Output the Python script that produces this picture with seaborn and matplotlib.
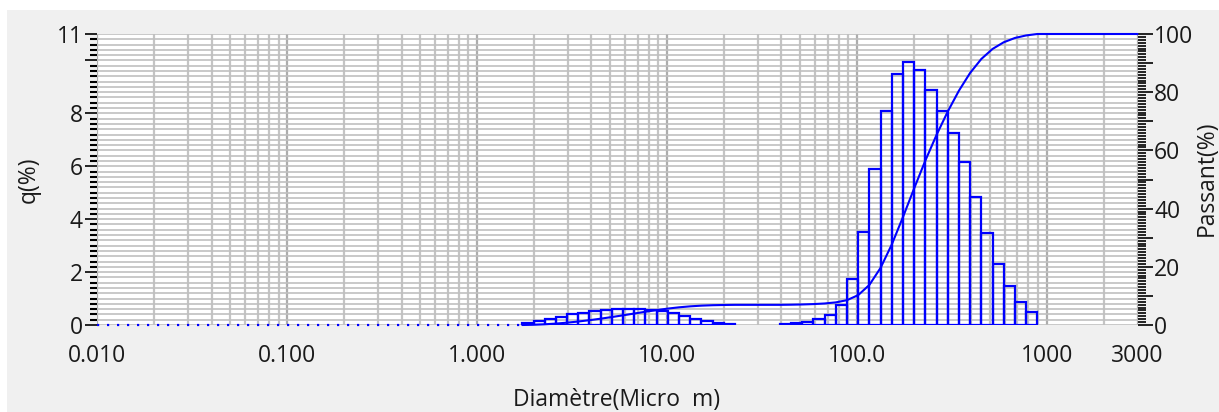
import numpy as np
import matplotlib
matplotlib.use("Agg")
import matplotlib.pyplot as plt
import seaborn as sns
from matplotlib.ticker import FixedLocator, FixedFormatter, NullFormatter
from matplotlib.patches import Rectangle

# ---- data ----
fine_edges = [1.729, 1.981, 2.269, 2.599, 2.976, 3.409, 3.905, 4.472, 5.122, 5.867,
              6.720, 7.697, 8.816, 10.10, 11.56, 13.24, 15.17, 17.37, 19.90, 22.79]
fine_q = [0.08, 0.17, 0.24, 0.32, 0.40, 0.46, 0.52, 0.57, 0.60, 0.62,
          0.61, 0.57, 0.53, 0.44, 0.34, 0.24, 0.15, 0.08, 0.05]
main_edges = [39.23, 44.94, 51.47, 58.95, 67.52, 77.34, 88.58, 101.5, 116.2, 133.1,
              152.5, 174.6, 200.0, 229.1, 262.4, 300.5, 344.2, 394.2, 451.6, 517.2,
              592.4, 678.5, 777.2, 890.2]
main_q = [0.05, 0.08, 0.13, 0.21, 0.38, 0.77, 1.75, 3.53, 5.91, 8.10,
          9.50, 9.96, 9.65, 8.89, 8.09, 7.24, 6.16, 4.84, 3.47, 2.32,
          1.49, 0.88, 0.50]
x_min, x_max = 0.01, 3000
xtick_vals = [0.01, 0.1, 1, 10, 100, 1000, 3000]
xtick_labels = ["0.010", "0.100", "1.000", "10.00", "100.0", "1000", "3000"]
ytick_left = [0, 2, 4, 6, 8, 10, 11]
ytick_left_labels = ["0", "2", "4", "6", "8", "", "11"]
ytick_right = list(range(0, 101, 10))
ytick_right_labels = [str(v) if v % 20 == 0 else "" for v in ytick_right]

sns.set_style("white")
plt.rcParams["font.family"] = ["Open Sans", "DejaVu Sans"]
FS = 16.5

W, H = 1219, 412
fig = plt.figure(figsize=(W / 100, H / 100), dpi=100)
fig.patch.set_facecolor("#f0f0f0")
# white strips at top and left
fig.patches.append(Rectangle((0, 1 - 10 / H), 1, 10 / H, transform=fig.transFigure,
                             facecolor="white", edgecolor="none", zorder=0))
fig.patches.append(Rectangle((0, 0), 7 / W, 1, transform=fig.transFigure,
                             facecolor="white", edgecolor="none", zorder=0))

L, R, T, B = 97.3, 1137.5, 34, 325
ax = fig.add_axes([L / W, 1 - B / H, (R - L) / W, (B - T) / H])
ax.set_facecolor("white")

blue = "#0000ff"


def centers(edges):
    e = np.array(edges)
    return np.sqrt(e[:-1] * e[1:])


sns.histplot(x=centers(fine_edges), weights=fine_q, bins=fine_edges, fill=False,
             color=blue, linewidth=1.6, ax=ax, element="bars")
sns.histplot(x=centers(main_edges), weights=main_q, bins=main_edges, fill=False,
             color=blue, linewidth=1.6, ax=ax, element="bars")
for p in ax.patches:
    p.set_edgecolor(blue)
    p.set_linewidth(1.6)

ax.plot([x_min, fine_edges[0]], [0, 0], ls=(0, (1, 3.5)), color=blue, lw=1.6,
        clip_on=False, zorder=3)

# cumulative passing curve
tot = sum(fine_q) + sum(main_q)
cf = np.cumsum(fine_q)
cm = cf[-1] + np.cumsum(main_q)
cx = list(fine_edges) + list(main_edges) + [x_max]
cy = [0.0] + list(cf) + [cf[-1]] + list(cm) + [tot]
cy = [v / tot * 100 for v in cy]

ax.set_xscale("log")
ax2 = ax.twinx()
sns.lineplot(x=cx, y=cy, ax=ax2, color=blue, lw=1.5, sort=False, estimator=None)
for ln in ax2.lines:
    ln.set_clip_on(False)

ax.set_xlim(x_min, x_max)
ax.set_ylim(0, 11)
ax.xaxis.set_major_locator(FixedLocator(xtick_vals))
ax.xaxis.set_major_formatter(FixedFormatter(xtick_labels))
minor_x = [m * 10.0 ** k for k in range(-2, 4) for m in range(2, 10)
           if m * 10.0 ** k < x_max and m * 10.0 ** k not in xtick_vals]
ax.xaxis.set_minor_locator(FixedLocator(minor_x))
ax.xaxis.set_minor_formatter(NullFormatter())

ax.yaxis.set_major_locator(FixedLocator(ytick_left))
ax.yaxis.set_major_formatter(FixedFormatter(ytick_left_labels))
ax.yaxis.set_minor_locator(FixedLocator(list(np.arange(0, 11.01, 0.2))))

ax.set_axisbelow(True)
ax.grid(which="major", axis="x", color="#adadad", lw=1.6)
ax.grid(which="minor", axis="x", color="#c4c4c4", lw=1.6)
ax.grid(which="both", axis="y", color="#c0c0c0", lw=1.2)
for s in ax.spines.values():
    s.set_visible(False)

ax.tick_params(axis="x", which="major", direction="out", length=10, width=1.2,
               color="black", labelsize=FS, pad=4, labelcolor="#1a1a1a")
ax.tick_params(axis="x", which="minor", direction="out", length=5, width=1.2,
               color="black")
ax.tick_params(axis="y", which="major", direction="out", length=8.5, width=1.2,
               color="black", labelsize=FS, pad=2, labelcolor="#1a1a1a")
ax.tick_params(axis="y", which="minor", direction="out", length=5, width=1.5,
               color="black")
ax.set_xlabel("")
ax.set_ylabel("")

ax2.set_ylim(0, 100)
ax2.yaxis.set_major_locator(FixedLocator(ytick_right))
ax2.yaxis.set_major_formatter(FixedFormatter(ytick_right_labels))
ax2.yaxis.set_minor_locator(FixedLocator(list(range(0, 101, 1))))
ax2.tick_params(axis="y", which="major", direction="out", length=11, width=1.2,
                color="black", labelsize=FS, pad=1, labelcolor="#1a1a1a")
ax2.tick_params(axis="y", which="minor", direction="out", length=5.5, width=1.2,
                color="black")
ax2.grid(False)
for s in ax2.spines.values():
    s.set_visible(False)
ax2.set_ylabel("")
ax2.set_xlabel("")

fig.text(17 / W, 1 - 180 / H, "q(%)", rotation=90, ha="left", va="center",
         fontsize=FS, color="#1a1a1a")
fig.text(1195 / W, 1 - 178 / H, "Passant(%)", rotation=90, ha="left", va="center",
         fontsize=FS, color="#1a1a1a")
fig.text(617 / W, 6 / H, "Diamètre(Micro  m)", ha="center", va="baseline",
         fontsize=FS, color="#1a1a1a")

fig.savefig("out.png", dpi=100, facecolor=fig.get_facecolor())
